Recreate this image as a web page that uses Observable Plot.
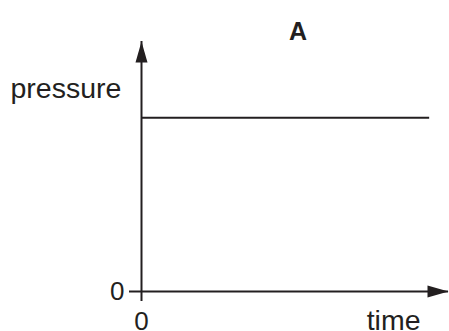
<!DOCTYPE html>
<html>
<head>
<meta charset="utf-8">
<script src="https://cdn.jsdelivr.net/npm/d3@7"></script>
<script src="https://cdn.jsdelivr.net/npm/@observablehq/plot@0.6"></script>
<style>
  html, body { margin: 0; padding: 0; background: #fff; }
  svg { display: block; }
</style>
</head>
<body>
<div id="chart"></div>
<script>
// ---- data ----
const title = "A";
const xLabel = "time";
const yLabel = "pressure";
const xDomain = [0, 10];
const yDomain = [0, 10];
const xTicks = [0];
const yTicks = [0];
const times = [0, 9.37];
const pressures = [6.95, 6.95];

// ---- styles ----
const ink = "#231f20";
const font = "Liberation Sans, Arial, Helvetica, sans-serif";

const series = times.map((t, i) => ({time: t, pressure: pressures[i]}));
const arrowTips = [
  {x: xDomain[0], y: yDomain[1], angle: 0},
  {x: xDomain[1], y: yDomain[0], angle: 90}
];

// filled arrowhead, tip at origin pointing up
const arrowHead = {
  draw(context) {
    context.moveTo(0, 0);
    context.lineTo(-6, 21);
    context.lineTo(6, 21);
    context.closePath();
  }
};

const chart = Plot.plot({
  width: 449,
  height: 331,
  marginLeft: 141,
  marginRight: 1,
  marginTop: 41,
  marginBottom: 40,
  style: {fontFamily: font, color: ink, background: "#fff"},
  x: {domain: xDomain},
  y: {domain: yDomain},
  marks: [
    Plot.axisY({ticks: yTicks, tickSize: 12, tickPadding: 5, strokeWidth: 2, fontSize: 26, label: null, color: ink}),
    Plot.axisX({ticks: xTicks, tickSize: 10, tickPadding: 10, strokeWidth: 2, fontSize: 26, label: null, color: ink}),
    Plot.ruleX([xDomain[0]], {y1: yDomain[0], y2: yDomain[1], stroke: ink, strokeWidth: 2}),
    Plot.ruleY([yDomain[0]], {x1: xDomain[0], x2: xDomain[1], stroke: ink, strokeWidth: 2}),
    Plot.dot(arrowTips, {x: "x", y: "y", rotate: "angle", symbol: arrowHead, fill: ink, stroke: "none"}),
    Plot.line(series, {x: "time", y: "pressure", stroke: ink, strokeWidth: 2, strokeLinecap: "butt"}),
    Plot.text([yLabel], {text: d => d, frameAnchor: "top-left", textAnchor: "start", lineAnchor: "bottom", dx: -131, dy: 56, fontSize: 28.5, fill: ink}),
    Plot.text([xLabel], {text: d => d, frameAnchor: "bottom-right", textAnchor: "end", lineAnchor: "bottom", dx: -28, dy: 38, fontSize: 28.5, fill: ink}),
    Plot.text([title], {text: d => d, frameAnchor: "top", textAnchor: "middle", lineAnchor: "bottom", dx: 3, dy: -2, fontSize: 25, fontWeight: "bold", fill: ink})
  ]
});
document.getElementById("chart").appendChild(chart);
</script>
</body>
</html>
